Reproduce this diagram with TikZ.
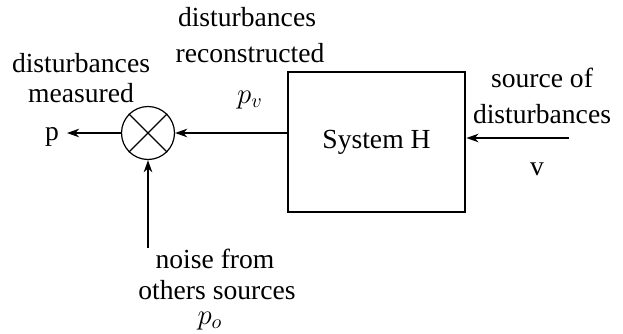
\documentclass[tikz,border=0pt]{standalone}
\usepackage{fontspec}
\setmainfont{Liberation Serif}
\usetikzlibrary{positioning, arrows.meta}

\begin{document}
\begin{tikzpicture}[x=0.5pt, y=-0.5pt,
    block/.style={draw, line width=1.4pt, minimum width=88.5pt, minimum height=70pt, font=\fontsize{13.8}{16}\selectfont},
    sumnode/.style={draw, circle, line width=0.6pt, minimum size=26.5pt, inner sep=0pt},
    lbl/.style={anchor=base, inner sep=0pt, font=\fontsize{13.8}{16}\selectfont},
    arr/.style={-{Stealth[length=6pt, width=4.2pt, inset=1.8pt]}, line width=1.2pt}
]
    \useasboundingbox (0,0) rectangle (623,333);
    \node[block] (sys) at (376.5,142) {System H};
    \node[sumnode] (sum) at (148,133) {};
    \draw[line width=0.6pt] (sum.north west) -- (sum.south east) (sum.north east) -- (sum.south west);

    \coordinate (pout)  at (67,133);
    \coordinate (vin)   at (569,138);
    \coordinate (noise) at (148,248);

    \draw[arr] (sum -| sys.west) -- (sum.east);
    \draw[arr] (sum.west) -- (pout);
    \draw[arr] (vin) -- (vin -| sys.east);
    \draw[arr] (noise) -- (sum.south);

    \node[lbl] (meas1) at (81,72)   {disturbances};
    \node[lbl] (meas2) at (81,102)  {measured};
    \node[lbl] (p)     at (52,140)  {p};
    \node[lbl] (rec1)  at (247,26)  {disturbances};
    \node[lbl] (rec2)  at (250,62)  {reconstructed};
    \node[lbl] (pv)    at (250,103) {$p_v$};
    \node[lbl] (src1)  at (542,87)  {source of};
    \node[lbl] (src2)  at (542,123) {disturbances};
    \node[lbl] (v)     at (537,175) {v};
    \node[lbl] (noi1)  at (215,268) {noise from};
    \node[lbl] (noi2)  at (217,299) {others sources};
    \node[lbl] (po)    at (210,324) {$p_o$};
\end{tikzpicture}
\end{document}
